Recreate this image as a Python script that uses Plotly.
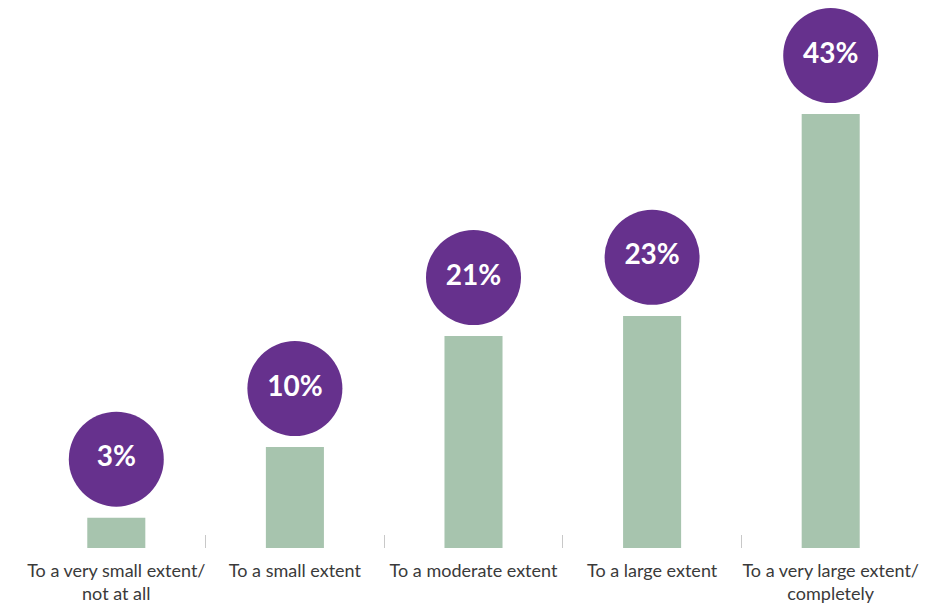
import plotly.graph_objects as go

categories = [
    "To a very small extent/<br>not at all",
    "To a small extent",
    "To a moderate extent",
    "To a large extent",
    "To a very large extent/<br>completely",
]
values = [3, 10, 21, 23, 43]
labels = ["3%", "10%", "21%", "23%", "43%"]

BAR_COLOR = "#A7C4AE"
BUBBLE_COLOR = "#66318D"
BUBBLE_LIFT = 5.8  # bubble centre sits this far above each bar top

fig = go.Figure()
fig.add_trace(go.Bar(
    x=categories, y=values, width=0.325,
    marker=dict(color=BAR_COLOR, line=dict(width=0)),
    hoverinfo="skip",
))
fig.add_trace(go.Scatter(
    x=categories, y=[v + BUBBLE_LIFT for v in values],
    mode="markers+text",
    marker=dict(size=95, color=BUBBLE_COLOR, line=dict(width=0)),
    text=labels, textposition="middle center",
    textfont=dict(family="Lato", size=28, color="white", weight="bold"),
    hoverinfo="skip",
))

fig.update_layout(
    width=951, height=604,
    margin=dict(l=27, r=31, t=0, b=56, autoexpand=False),
    paper_bgcolor="white", plot_bgcolor="white",
    showlegend=False,
    xaxis=dict(
        type="category",
        range=[-0.5, 4.5],
        automargin=False,
        tickangle=0,
        tickson="boundaries", ticks="inside", ticklen=13, tickwidth=1,
        tickcolor="#c8c8c8",
        ticklabelstandoff=10,
        showgrid=False, zeroline=False, showline=False,
        tickfont=dict(family="Lato", size=18, color="#3a3a3a"),
    ),
    yaxis=dict(range=[0, 54.3], visible=False),
)

fig.write_html("out.html")
